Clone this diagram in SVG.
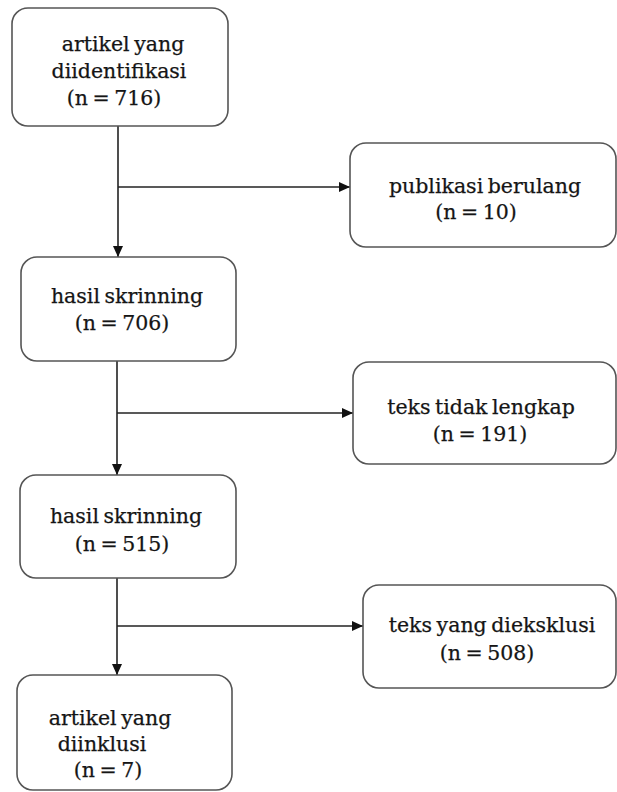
<svg xmlns="http://www.w3.org/2000/svg" width="617" height="792" viewBox="0 0 617 792">
<style>
.box{fill:#fff;stroke:#555;stroke-width:1.6}
.t{font-family:"DejaVu Serif","Liberation Serif",serif;font-size:20.5px;fill:#151515;text-anchor:middle;word-spacing:-2px;stroke:#151515;stroke-width:0.25}
.c{stroke:#222;stroke-width:1.6;fill:none}
</style>
<defs>
<marker id="ah" markerUnits="userSpaceOnUse" markerWidth="12" markerHeight="10" refX="11" refY="5" orient="auto">
<path d="M0,0 L11,5 L0,10 Z" fill="#111"/>
</marker>
</defs>
<rect width="617" height="792" fill="#fff"/>
<g id="connectors">
<line class="c" x1="118" y1="126" x2="118" y2="257" marker-end="url(#ah)"/>
<line class="c" x1="118" y1="187" x2="350" y2="187" marker-end="url(#ah)"/>
<line class="c" x1="117" y1="361" x2="117" y2="475" marker-end="url(#ah)"/>
<line class="c" x1="117" y1="413" x2="353" y2="413" marker-end="url(#ah)"/>
<line class="c" x1="117" y1="578" x2="117" y2="675" marker-end="url(#ah)"/>
<line class="c" x1="117" y1="626" x2="363" y2="626" marker-end="url(#ah)"/>
</g>
<g id="n1">
<rect class="box" x="12" y="8" width="216" height="118" rx="16"/>
<text class="t" x="123" y="51">artikel yang</text>
<text class="t" x="119" y="78">diidentifikasi</text>
<text class="t" x="114" y="105">(n = 716)</text>
</g>
<g id="n2">
<rect class="box" x="350" y="143" width="266" height="104" rx="16"/>
<text class="t" x="485" y="193">publikasi berulang</text>
<text class="t" x="476" y="219">(n = 10)</text>
</g>
<g id="n3">
<rect class="box" x="21" y="257" width="215" height="104" rx="16"/>
<text class="t" x="127" y="303">hasil skrinning</text>
<text class="t" x="122" y="330">(n = 706)</text>
</g>
<g id="n4">
<rect class="box" x="353" y="362" width="263" height="102" rx="16"/>
<text class="t" x="481" y="414">teks tidak lengkap</text>
<text class="t" x="480" y="441">(n = 191)</text>
</g>
<g id="n5">
<rect class="box" x="20" y="475" width="216" height="103" rx="16"/>
<text class="t" x="126" y="523">hasil skrinning</text>
<text class="t" x="122" y="551">(n = 515)</text>
</g>
<g id="n6">
<rect class="box" x="363" y="585" width="253" height="103" rx="16"/>
<text class="t" x="492" y="632">teks yang dieksklusi</text>
<text class="t" x="487" y="660">(n = 508)</text>
</g>
<g id="n7">
<rect class="box" x="17" y="675" width="215" height="115" rx="16"/>
<text class="t" x="110" y="725">artikel yang</text>
<text class="t" x="102" y="751">diinklusi</text>
<text class="t" x="108" y="777">(n = 7)</text>
</g>
</svg>
